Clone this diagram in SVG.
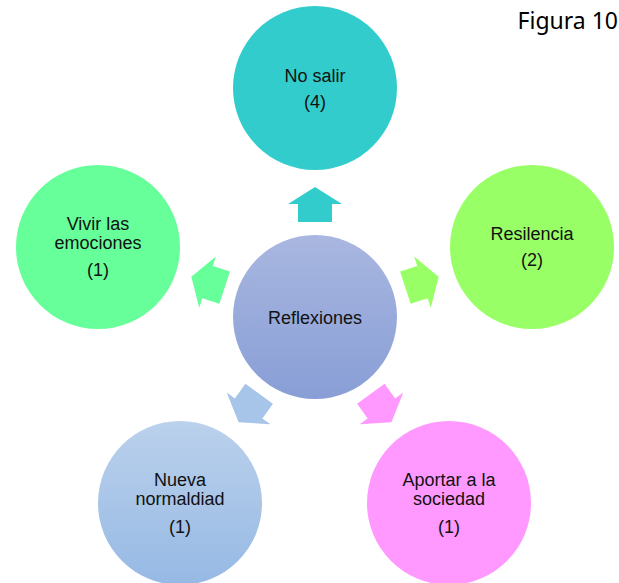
<svg xmlns="http://www.w3.org/2000/svg" width="619" height="583" viewBox="0 0 619 583">
  <defs>
    <linearGradient id="gCenter" x1="0" y1="0" x2="0" y2="1">
      <stop offset="0" stop-color="#A9B7E0"/>
      <stop offset="1" stop-color="#889ED6"/>
    </linearGradient>
    <linearGradient id="gBlue" x1="0" y1="0" x2="0" y2="1">
      <stop offset="0" stop-color="#BBD1EC"/>
      <stop offset="1" stop-color="#96B9E4"/>
    </linearGradient>
    <polygon id="arrow" points="-17,-95 -17,-113 -27,-113 0,-130 27,-113 17,-113 17,-95"/>
  </defs>
  <style>
    text { font-family: "Liberation Sans", Arial, sans-serif; font-size: 18px; fill: #111; text-anchor: middle; }
    .fig { font-family: "Noto Sans", "Liberation Sans", sans-serif; font-size: 23px; text-anchor: end; fill: #000; }
  </style>

  <text class="fig" x="618" y="29">Figura 10</text>

  <g id="connectors">
    <use href="#arrow" transform="translate(315 317)" fill="#33CCCC"/>
    <use href="#arrow" transform="translate(315 317) rotate(72)" fill="#99FF66"/>
    <use href="#arrow" transform="translate(315 317) rotate(144)" fill="#FF99FF"/>
    <use href="#arrow" transform="translate(315 317) rotate(216)" fill="#A7C4E9"/>
    <use href="#arrow" transform="translate(315 317) rotate(-72)" fill="#66FF99"/>
  </g>

  <g id="center">
    <circle cx="315" cy="317" r="82" fill="url(#gCenter)"/>
    <text x="315" y="324">Reflexiones</text>
  </g>

  <g id="no-salir">
    <circle cx="315" cy="88" r="82" fill="#33CCCC"/>
    <text x="315" y="82">No salir</text>
    <text x="315" y="108">(4)</text>
  </g>

  <g id="resilencia">
    <circle cx="532" cy="247" r="82" fill="#99FF66"/>
    <text x="532" y="240">Resilencia</text>
    <text x="532" y="266">(2)</text>
  </g>

  <g id="vivir">
    <circle cx="98" cy="247" r="82" fill="#66FF99"/>
    <text x="98" y="230">Vivir las</text>
    <text x="98" y="249">emociones</text>
    <text x="98" y="276">(1)</text>
  </g>

  <g id="nueva">
    <circle cx="180" cy="503" r="82" fill="url(#gBlue)"/>
    <text x="180" y="486">Nueva</text>
    <text x="180" y="505">normaldiad</text>
    <text x="180" y="533">(1)</text>
  </g>

  <g id="aportar">
    <circle cx="449" cy="503" r="82" fill="#FF99FF"/>
    <text x="449" y="486">Aportar a la</text>
    <text x="449" y="505">sociedad</text>
    <text x="449" y="533">(1)</text>
  </g>
</svg>
